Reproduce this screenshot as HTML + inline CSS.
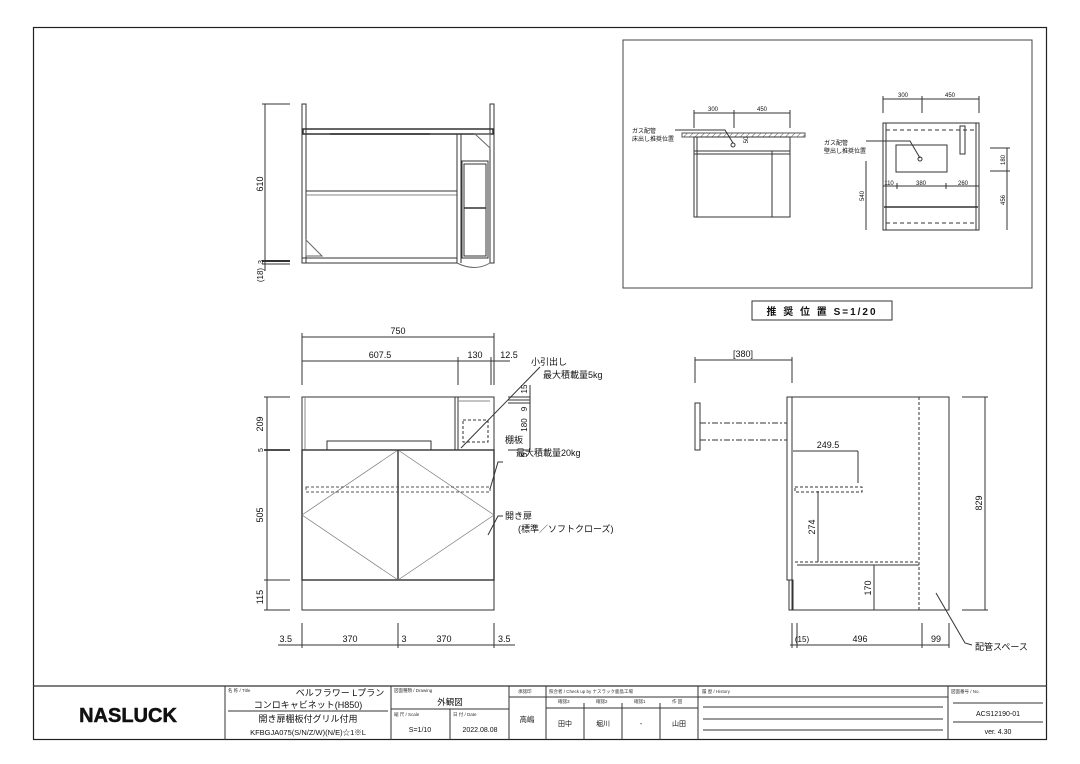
<!DOCTYPE html>
<html><head><meta charset="utf-8"><style>
html,body{margin:0;padding:0;background:#fff;}
svg{display:block;font-family:"Liberation Sans","Noto Sans CJK JP",sans-serif;}
</style></head><body>
<svg width="1080" height="764" viewBox="0 0 1080 764" xmlns="http://www.w3.org/2000/svg">
<defs>
<pattern id="hatch" width="4" height="4" patternUnits="userSpaceOnUse" patternTransform="rotate(45)"><line x1="0" y1="0" x2="0" y2="4" stroke="#555" stroke-width="1"/></pattern>
</defs>
<rect x="0" y="0" width="1080" height="764" fill="#fff"/>
<rect x="33.5" y="27.5" width="1013" height="712" fill="none" stroke="#222" stroke-width="1.2"/>

<g stroke="#333" fill="none" stroke-width="1">
<!-- TOP VIEW -->
<line x1="265" y1="104" x2="265" y2="271"/>
<line x1="262" y1="104" x2="290" y2="104"/>
<line x1="262" y1="261" x2="290" y2="261" stroke-width="2"/>
<line x1="262" y1="264" x2="290" y2="264"/>
<rect x="302" y="104" width="4" height="159" fill="#fff"/>
<rect x="490" y="104" width="4" height="159" fill="#fff"/>
<rect x="303" y="129" width="190" height="5" stroke-width="1.5"/>
<line x1="306" y1="191" x2="457" y2="191"/>
<line x1="306" y1="195" x2="457" y2="195" stroke="#888"/>
<rect x="302" y="258" width="155" height="5"/>
<line x1="457" y1="134" x2="457" y2="263"/>
<line x1="461" y1="134" x2="461" y2="263"/>
<rect x="462" y="161" width="26" height="97"/>
<rect x="464" y="164" width="22" height="92"/>
<line x1="464" y1="208" x2="486" y2="208" stroke-width="1.5"/>
<path d="M475 134 L490 134 L490 148 Z" stroke="#666"/>
<path d="M306 240 L306 256 L322 256 Z" stroke="#666"/>
<path d="M457 263 Q475 272 490 263" stroke="#666"/>
<line x1="330" y1="134" x2="430" y2="134" stroke-width="1.5"/>

<!-- FRONT VIEW -->
<line x1="302" y1="337" x2="494" y2="337"/>
<line x1="302" y1="361" x2="494" y2="361"/>
<line x1="494" y1="361" x2="510" y2="361"/>
<line x1="302" y1="333" x2="302" y2="385"/>
<line x1="494" y1="333" x2="494" y2="385"/>
<line x1="458" y1="357" x2="458" y2="385"/>
<line x1="491" y1="357" x2="491" y2="385"/>
<rect x="302" y="397" width="192" height="213"/>
<line x1="305" y1="397" x2="305" y2="450" stroke="#888"/>
<rect x="302" y="450" width="192" height="130" stroke-width="1.4"/>
<line x1="398" y1="450" x2="398" y2="580" stroke-width="1.4"/>
<path d="M398 450 L302 515 L398 580 M398 450 L494 515 L398 580" stroke="#777" stroke-width="0.7"/>
<rect x="306" y="487" width="184" height="5" stroke-dasharray="3,2" stroke="#555"/>
<rect x="327" y="441" width="104" height="9"/>
<rect x="455" y="397" width="39" height="53"/>
<line x1="458" y1="397" x2="458" y2="450"/>
<line x1="458" y1="401" x2="490" y2="401" stroke="#888"/>
<rect x="463" y="420" width="25" height="22" stroke-dasharray="3,2"/>
<line x1="461" y1="448" x2="540" y2="367"/>
<line x1="267" y1="397" x2="267" y2="610"/>
<line x1="264" y1="397" x2="290" y2="397"/>
<line x1="264" y1="450" x2="290" y2="450" stroke-width="1.8"/>
<line x1="264" y1="580" x2="290" y2="580"/>
<line x1="264" y1="610" x2="290" y2="610"/>
<line x1="530" y1="385" x2="530" y2="450"/>
<line x1="508" y1="397" x2="530" y2="397"/>
<line x1="508" y1="400" x2="530" y2="400"/>
<line x1="508" y1="403" x2="530" y2="403"/>
<line x1="508" y1="450" x2="530" y2="450"/>
<line x1="278" y1="645" x2="515" y2="645"/>
<line x1="302" y1="623" x2="302" y2="648"/>
<line x1="398" y1="623" x2="398" y2="648"/>
<line x1="494" y1="623" x2="494" y2="648"/>
<path d="M490 489 L498 462 L503 462"/>
<path d="M488 535 L498 516 L503 516"/>

<!-- SIDE VIEW -->
<line x1="695" y1="360" x2="792" y2="360"/>
<line x1="695" y1="357" x2="695" y2="383"/>
<line x1="792" y1="357" x2="792" y2="383"/>
<rect x="792" y="397" width="157" height="213"/>
<rect x="787" y="397" width="5" height="183"/>
<rect x="789" y="580" width="4" height="30"/>
<rect x="695" y="403" width="5" height="47"/>
<line x1="700" y1="423" x2="787" y2="423" stroke-dasharray="6,2,2,2"/>
<line x1="700" y1="440" x2="787" y2="440" stroke-dasharray="6,2,2,2"/>
<line x1="919" y1="397" x2="919" y2="610" stroke-dasharray="3,2"/>
<rect x="795" y="487" width="67" height="5" stroke-dasharray="3,2"/>
<line x1="795" y1="562" x2="919" y2="562" stroke-dasharray="3,2"/>
<line x1="797" y1="565" x2="919" y2="565"/>
<line x1="793" y1="451" x2="858" y2="451"/>
<line x1="858" y1="451" x2="858" y2="483"/>
<line x1="818" y1="491" x2="818" y2="562"/>
<line x1="874" y1="565" x2="874" y2="610"/>
<line x1="985" y1="397" x2="985" y2="610"/>
<line x1="962" y1="397" x2="988" y2="397"/>
<line x1="962" y1="610" x2="988" y2="610"/>
<line x1="790" y1="645" x2="949" y2="645"/>
<line x1="792" y1="623" x2="792" y2="648"/>
<line x1="797" y1="623" x2="797" y2="648"/>
<line x1="922" y1="623" x2="922" y2="648"/>
<line x1="949" y1="623" x2="949" y2="648"/>
<path d="M936 593 L965 643 L972 645"/>

<!-- RECOMMENDED POSITION BOX -->
<rect x="623" y="40" width="409" height="248" stroke="#444"/>
<rect x="682" y="133" width="123" height="4" fill="url(#hatch)" stroke="#555"/>
<rect x="694" y="137" width="96" height="80"/>
<line x1="697" y1="137" x2="697" y2="217"/>
<line x1="694" y1="151" x2="790" y2="151"/>
<line x1="694" y1="154" x2="790" y2="154"/>
<line x1="772" y1="151" x2="772" y2="217"/>
<line x1="694" y1="113" x2="790" y2="113"/>
<line x1="694" y1="110" x2="694" y2="128"/>
<line x1="734" y1="110" x2="734" y2="128"/>
<line x1="790" y1="110" x2="790" y2="128"/>
<path d="M675 130 L725 130 L733 143"/>
<circle cx="733" cy="145" r="2"/>
<rect x="883" y="123" width="96" height="107"/>
<line x1="886" y1="123" x2="886" y2="230"/>
<line x1="976" y1="123" x2="976" y2="230"/>
<line x1="886" y1="130" x2="976" y2="130" stroke-dasharray="4,3"/>
<line x1="886" y1="223" x2="976" y2="223" stroke-dasharray="4,3"/>
<line x1="884" y1="207" x2="978" y2="207" stroke-width="1.5"/>
<rect x="896" y="145" width="51" height="27"/>
<rect x="960" y="126" width="5" height="28"/>
<line x1="883" y1="99" x2="979" y2="99"/>
<line x1="883" y1="96" x2="883" y2="113"/>
<line x1="922" y1="96" x2="922" y2="113"/>
<line x1="979" y1="96" x2="979" y2="113"/>
<line x1="883" y1="186" x2="979" y2="186"/>
<line x1="897" y1="183" x2="897" y2="189"/>
<line x1="946" y1="183" x2="946" y2="189"/>
<line x1="866" y1="161" x2="866" y2="230"/>
<line x1="1007" y1="148" x2="1007" y2="230"/>
<line x1="990" y1="148" x2="1010" y2="148"/>
<line x1="990" y1="171" x2="1010" y2="171"/>
<path d="M866 141 L910 141 L920 158"/>
<circle cx="920" cy="159" r="2"/>
<rect x="752" y="301" width="140" height="19"/>

<!-- TITLE BLOCK -->
<line x1="33" y1="686" x2="1047" y2="686" stroke-width="1.2"/>
<line x1="225" y1="686" x2="225" y2="740"/>
<line x1="391" y1="686" x2="391" y2="740"/>
<line x1="509" y1="686" x2="509" y2="740"/>
<line x1="546" y1="686" x2="546" y2="740"/>
<line x1="698" y1="686" x2="698" y2="740"/>
<line x1="948" y1="686" x2="948" y2="740"/>
<line x1="228" y1="711" x2="388" y2="711"/>
<line x1="391" y1="709" x2="509" y2="709"/>
<line x1="450" y1="709" x2="450" y2="740"/>
<line x1="509" y1="697" x2="698" y2="697"/>
<line x1="546" y1="708" x2="698" y2="708"/>
<line x1="584" y1="703" x2="584" y2="740"/>
<line x1="622" y1="703" x2="622" y2="740"/>
<line x1="660" y1="703" x2="660" y2="740"/>
<line x1="698" y1="697" x2="948" y2="697"/>
<line x1="703" y1="707" x2="943" y2="707"/>
<line x1="703" y1="719" x2="943" y2="719"/>
<line x1="703" y1="730" x2="943" y2="730"/>
<line x1="953" y1="703" x2="1043" y2="703"/>
<line x1="953" y1="722" x2="1043" y2="722"/>
</g>

<g fill="#111" font-size="9">
<text x="263" y="184" transform="rotate(-90 263 184)" text-anchor="middle">610</text>
<text x="263" y="262" transform="rotate(-90 263 262)" text-anchor="middle" font-size="7">3</text>
<text x="263" y="275" transform="rotate(-90 263 275)" text-anchor="middle" font-size="8">(18)</text>
<text x="398" y="334" text-anchor="middle">750</text>
<text x="380" y="358" text-anchor="middle">607.5</text>
<text x="475" y="358" text-anchor="middle">130</text>
<text x="509" y="358" text-anchor="middle">12.5</text>
<text x="531" y="365">小引出し</text>
<text x="543" y="378">最大積載量5kg</text>
<text x="505" y="443">棚板</text>
<text x="516" y="456">最大積載量20kg</text>
<text x="505" y="519">開き扉</text>
<text x="518" y="532">(標準／ソフトクローズ)</text>
<text x="263" y="424" transform="rotate(-90 263 424)" text-anchor="middle">209</text>
<text x="263" y="450" transform="rotate(-90 263 450)" text-anchor="middle" font-size="7">5</text>
<text x="263" y="515" transform="rotate(-90 263 515)" text-anchor="middle">505</text>
<text x="263" y="597" transform="rotate(-90 263 597)" text-anchor="middle">115</text>
<text x="527" y="389" transform="rotate(-90 527 389)" text-anchor="middle" font-size="8">15</text>
<text x="527" y="409" transform="rotate(-90 527 409)" text-anchor="middle" font-size="8">9</text>
<text x="527" y="425" transform="rotate(-90 527 425)" text-anchor="middle" font-size="8">180</text>
<text x="527" y="455" transform="rotate(-90 527 455)" text-anchor="middle" font-size="8">5</text>
<text x="292" y="642" text-anchor="end">3.5</text>
<text x="350" y="642" text-anchor="middle">370</text>
<text x="404" y="642" text-anchor="middle">3</text>
<text x="444" y="642" text-anchor="middle">370</text>
<text x="498" y="642">3.5</text>
<text x="743" y="357" text-anchor="middle">[380]</text>
<text x="828" y="448" text-anchor="middle">249.5</text>
<text x="815" y="527" transform="rotate(-90 815 527)" text-anchor="middle">274</text>
<text x="871" y="588" transform="rotate(-90 871 588)" text-anchor="middle">170</text>
<text x="982" y="503" transform="rotate(-90 982 503)" text-anchor="middle">829</text>
<text x="802" y="642" text-anchor="middle" font-size="8">(15)</text>
<text x="860" y="642" text-anchor="middle">496</text>
<text x="936" y="642" text-anchor="middle">99</text>
<text x="975" y="650">配管スペース</text>
<g font-size="6">
<text x="713" y="111" text-anchor="middle">300</text>
<text x="762" y="111" text-anchor="middle">450</text>
<text x="632" y="133">ガス配管</text>
<text x="632" y="141">床出し推奨位置</text>
<text x="748" y="140" transform="rotate(-90 748 140)" text-anchor="middle">50</text>
<text x="903" y="97" text-anchor="middle">300</text>
<text x="950" y="97" text-anchor="middle">450</text>
<text x="824" y="145">ガス配管</text>
<text x="824" y="153">壁出し推奨位置</text>
<text x="889" y="185" text-anchor="middle">110</text>
<text x="921" y="185" text-anchor="middle">380</text>
<text x="963" y="185" text-anchor="middle">260</text>
<text x="864" y="196" transform="rotate(-90 864 196)" text-anchor="middle">540</text>
<text x="1005" y="160" transform="rotate(-90 1005 160)" text-anchor="middle">180</text>
<text x="1005" y="200" transform="rotate(-90 1005 200)" text-anchor="middle">456</text>
</g>
<text x="822" y="315" text-anchor="middle" font-size="10" font-weight="bold" letter-spacing="2">推 奨 位 置 S=1/20</text>
<text x="128" y="722" text-anchor="middle" font-size="20" font-weight="bold" stroke="#111" stroke-width="0.5">NASLUCK</text>
<g font-size="4.5" fill="#333">
<text x="228" y="692">名 称 / Title</text>
<text x="394" y="692">図面種類 / Drawing</text>
<text x="394" y="716">縮 尺 / Scale</text>
<text x="453" y="716">日 付 / Date</text>
<text x="518" y="693">承認印</text>
<text x="549" y="693">照合者 / Check up by ナスラック鹿島工場</text>
<text x="558" y="703">確認3</text>
<text x="596" y="703">確認2</text>
<text x="634" y="703">確認1</text>
<text x="672" y="703">作 図</text>
<text x="702" y="693">履 歴 / History</text>
<text x="951" y="693">図面番号 / No.</text>
</g>
<text x="340" y="696" text-anchor="middle" font-size="9">ベルフラワー Lプラン</text>
<text x="308" y="708" text-anchor="middle" font-size="9">コンロキャビネット(H850)</text>
<text x="308" y="722" text-anchor="middle" font-size="9">開き扉棚板付グリル付用</text>
<text x="308" y="735" text-anchor="middle" font-size="7.5">KFBGJA075(S/N/Z/W)(N/E)☆1※L</text>
<text x="450" y="705" text-anchor="middle" font-size="8.5">外観図</text>
<text x="420" y="732" text-anchor="middle" font-size="7">S=1/10</text>
<text x="480" y="732" text-anchor="middle" font-size="7">2022.08.08</text>
<text x="527" y="722" text-anchor="middle" font-size="7.5">高嶋</text>
<text x="565" y="726" text-anchor="middle" font-size="7">田中</text>
<text x="603" y="726" text-anchor="middle" font-size="7">堀川</text>
<text x="641" y="726" text-anchor="middle" font-size="7">-</text>
<text x="679" y="726" text-anchor="middle" font-size="7">山田</text>
<text x="998" y="716" text-anchor="middle" font-size="7">ACS12190-01</text>
<text x="998" y="734" text-anchor="middle" font-size="7">ver. 4.30</text>
</g>
</svg>
</body></html>
